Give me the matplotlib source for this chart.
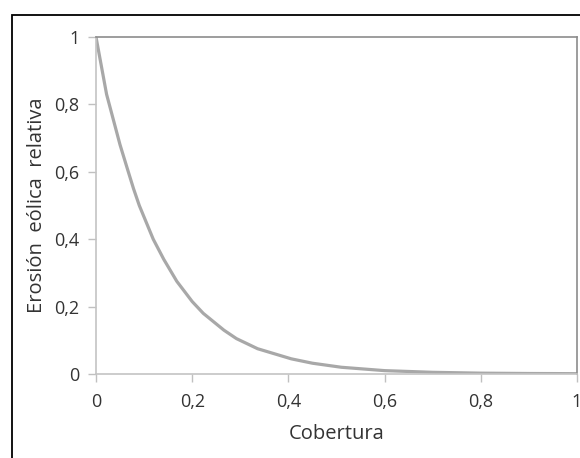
import matplotlib
matplotlib.use('Agg')
import matplotlib.pyplot as plt
from matplotlib.patches import Rectangle
from matplotlib.ticker import FuncFormatter

# values
cobertura = [0.0, 0.022, 0.05, 0.065, 0.078, 0.09, 0.119, 0.141, 0.168,
             0.2, 0.223, 0.266, 0.292, 0.336, 0.406, 0.45, 0.51, 0.6,
             0.7, 0.8, 0.9, 1.0]
erosion = [1.0, 0.83, 0.68, 0.61, 0.55, 0.50, 0.40, 0.34, 0.275,
           0.215, 0.18, 0.13, 0.105, 0.075, 0.045, 0.032, 0.02, 0.010,
           0.005, 0.0025, 0.0015, 0.001]

x_ticks = [0, 0.2, 0.4, 0.6, 0.8, 1]
y_ticks = [0, 0.2, 0.4, 0.6, 0.8, 1]

plt.rcParams['font.family'] = ['Open Sans', 'DejaVu Sans']

fig = plt.figure(figsize=(5.8, 4.58), dpi=100)
ax = fig.add_axes([96 / 580, 84 / 458, 481 / 580, 337 / 458])

ax.plot(cobertura, erosion, color='#a8a8a8', lw=2.3,
        solid_capstyle='round', solid_joinstyle='round')

ax.set_xlim(0, 1)
ax.set_ylim(0, 1)
ax.set_xticks(x_ticks)
ax.set_yticks(y_ticks)


def _comma(v, _pos):
    return f"{v:g}".replace('.', ',')


ax.xaxis.set_major_formatter(FuncFormatter(_comma))
ax.yaxis.set_major_formatter(FuncFormatter(_comma))
ax.tick_params(direction='out', length=6, width=1, color='#c0c0c0',
               labelsize=13, labelcolor='#333333')
ax.tick_params(axis='x', pad=8)
ax.tick_params(axis='y', pad=6)

for sp in ('left', 'bottom'):
    ax.spines[sp].set_color('#c4c4c4')
    ax.spines[sp].set_linewidth(1.2)
for sp in ('top', 'right'):
    ax.spines[sp].set_color('#8c8c8c')
    ax.spines[sp].set_linewidth(1.2)

ax.set_xlabel('Cobertura', fontsize=14.5, color='#333333', labelpad=9)
ax.set_ylabel('Erosión  eólica  relativa', fontsize=14.5, color='#333333',
              labelpad=5)

# outer chart border (Excel style)
fig.patches.append(Rectangle((12 / 580, -0.1), 1.2, (458 - 15) / 458 + 0.1,
                             transform=fig.transFigure, fill=False,
                             edgecolor='black', lw=1.3))

fig.savefig('out.png', dpi=100)
